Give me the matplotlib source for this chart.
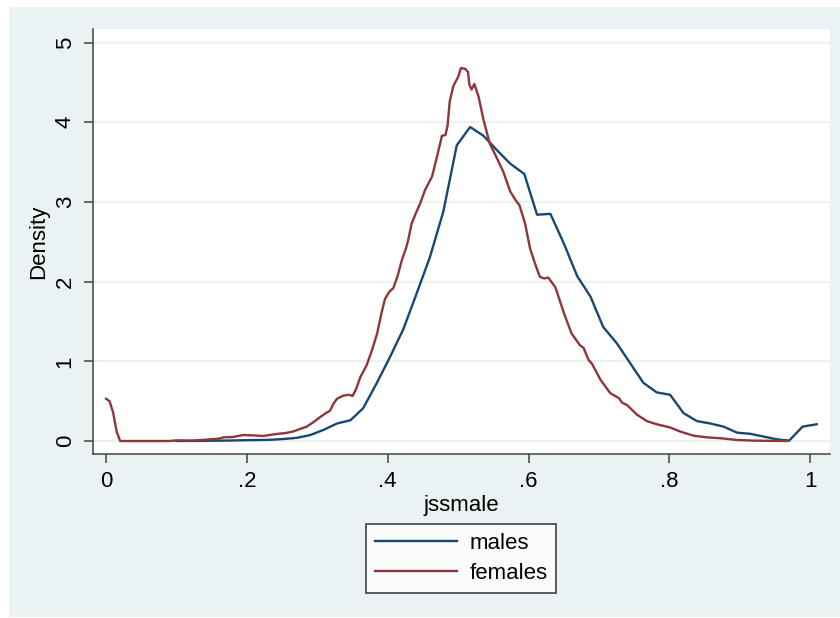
import matplotlib
matplotlib.use("Agg")
import matplotlib.pyplot as plt
from matplotlib.patches import Rectangle

# kernel density estimates
males_x = [0.10, 0.119, 0.138, 0.157, 0.176, 0.195, 0.214, 0.233, 0.252, 0.271,
           0.29, 0.309, 0.328, 0.347, 0.365, 0.384, 0.403, 0.422, 0.441, 0.46,
           0.479, 0.498, 0.517, 0.536, 0.555, 0.574, 0.594, 0.612, 0.631, 0.65,
           0.669, 0.688, 0.706, 0.725, 0.744, 0.763, 0.782, 0.801, 0.82, 0.839,
           0.858, 0.877, 0.896, 0.915, 0.934, 0.953, 0.97, 0.989, 1.009]
males_y = [0.0, 0.001, 0.002, 0.004, 0.006, 0.01, 0.012, 0.015, 0.025, 0.04,
           0.075, 0.14, 0.22, 0.26, 0.41, 0.72, 1.05, 1.40, 1.85, 2.31,
           2.88, 3.71, 3.94, 3.83, 3.65, 3.48, 3.35, 2.84, 2.85, 2.48,
           2.07, 1.81, 1.43, 1.23, 0.98, 0.73, 0.61, 0.58, 0.35, 0.25,
           0.22, 0.18, 0.105, 0.09, 0.055, 0.02, 0.005, 0.18, 0.21]

females_x = [0.0, 0.005, 0.01, 0.015, 0.02, 0.05, 0.09, 0.10, 0.12, 0.14,
             0.16, 0.167, 0.18, 0.195, 0.21, 0.223, 0.242, 0.255, 0.266, 0.275,
             0.285, 0.295, 0.304, 0.312, 0.318, 0.323, 0.328, 0.337, 0.345, 0.35,
             0.355, 0.361, 0.37, 0.378, 0.385, 0.391, 0.396, 0.402, 0.408, 0.414,
             0.42, 0.426, 0.429, 0.434, 0.44, 0.446, 0.453, 0.463, 0.47, 0.477,
             0.482, 0.485, 0.488, 0.493, 0.50, 0.504, 0.51, 0.514, 0.516, 0.519,
             0.523, 0.529, 0.536, 0.545, 0.555, 0.564, 0.574, 0.581, 0.587, 0.595,
             0.602, 0.609, 0.616, 0.622, 0.628, 0.638, 0.647, 0.652, 0.661, 0.673,
             0.678, 0.685, 0.69, 0.702, 0.716, 0.728, 0.733, 0.74, 0.754, 0.768,
             0.782, 0.801, 0.815, 0.834, 0.853, 0.872, 0.896, 0.919, 0.945, 0.967]
females_y = [0.53, 0.50, 0.36, 0.12, 0.0, 0.0, 0.0, 0.008, 0.005, 0.015,
             0.03, 0.046, 0.05, 0.075, 0.07, 0.063, 0.088, 0.10, 0.12, 0.15,
             0.18, 0.24, 0.30, 0.35, 0.38, 0.47, 0.53, 0.57, 0.58, 0.565,
             0.65, 0.80, 0.95, 1.15, 1.35, 1.60, 1.78, 1.87, 1.92, 2.07,
             2.27, 2.42, 2.52, 2.73, 2.86, 2.98, 3.15, 3.32, 3.57, 3.83,
             3.84, 3.96, 4.26, 4.45, 4.57, 4.68, 4.67, 4.63, 4.47, 4.41,
             4.48, 4.32, 4.03, 3.73, 3.55, 3.38, 3.13, 3.03, 2.96, 2.73,
             2.42, 2.23, 2.06, 2.04, 2.05, 1.93, 1.69, 1.56, 1.35, 1.20,
             1.17, 1.02, 0.97, 0.77, 0.60, 0.54, 0.48, 0.45, 0.33, 0.25,
             0.21, 0.17, 0.12, 0.067, 0.046, 0.035, 0.013, 0.005, 0.002, 0.0]

x_ticks = [0, 0.2, 0.4, 0.6, 0.8, 1.0]
x_ticklabels = ["0", ".2", ".4", ".6", ".8", "1"]
y_ticks = [0, 1, 2, 3, 4, 5]

plt.rcParams['font.family'] = ['Liberation Sans', 'DejaVu Sans']
bg = "#EAF2F3"
navy = "#1A476F"
maroon = "#90353B"

fig = plt.figure(figsize=(8.4, 6.18), dpi=100, facecolor="white")
outer = Rectangle((9 / 840, 1 / 618), 831 / 840, 610 / 618,
                  transform=fig.transFigure, facecolor=bg,
                  edgecolor="none", zorder=-10)
fig.add_artist(outer)

ax = fig.add_axes([93 / 840, 1 - 454 / 618, 737 / 840, 425 / 618])
ax.set_zorder(5)
ax.set_facecolor("white")

ax.plot(males_x, males_y, color=navy, lw=1.7, label="males", zorder=3)
ax.plot(females_x, females_y, color=maroon, lw=1.7, label="females", zorder=3)

ax.set_xlim(-0.0185, 1.028)
ax.set_ylim(-0.163, 5.17)
ax.set_xticks(x_ticks)
ax.set_xticklabels(x_ticklabels)
ax.set_yticks(y_ticks)

for y in y_ticks:
    ax.axhline(y, color=bg, lw=1.6, zorder=1)

for s in ["top", "right"]:
    ax.spines[s].set_visible(False)
for s in ["left", "bottom"]:
    ax.spines[s].set_color("#444444")
    ax.spines[s].set_linewidth(1.1)

ax.tick_params(axis="both", direction="out", length=6.5, width=1.1,
               color="#444444", labelsize=16, pad=6)
ax.tick_params(axis="y", labelrotation=90)
for lab in ax.get_yticklabels():
    lab.set_va("center")

ax.set_xlabel("jssmale", fontsize=16, labelpad=2)
ax.set_ylabel("Density", fontsize=16, labelpad=4)

leg = ax.legend(loc="center", bbox_to_anchor=(461 / 840, 1 - 558.5 / 618),
                bbox_transform=fig.transFigure, fontsize=16, frameon=True,
                fancybox=False, edgecolor="black", handlelength=3.7,
                handletextpad=0.55, labelspacing=0.4, borderpad=0.4)
leg.get_frame().set_linewidth(1.1)

fig.savefig("out.png", dpi=100, facecolor="white")
